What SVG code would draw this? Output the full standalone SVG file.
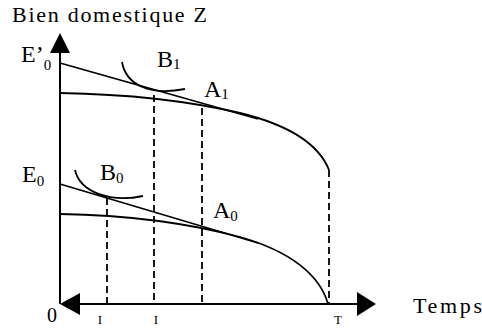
<svg xmlns="http://www.w3.org/2000/svg" width="482" height="328" viewBox="0 0 482 328">
<style>
.ln{fill:none;stroke:#000;stroke-width:1.8}
.ax{fill:none;stroke:#000;stroke-width:2}
.ds{fill:none;stroke:#000;stroke-width:1.8;stroke-dasharray:7,4}
text{font-family:'Liberation Serif','Times New Roman','DejaVu Serif',serif;font-size:22px;fill:#000}
.l{font-size:24px}
.s{font-size:15px}
</style>
<rect width="482" height="328" fill="#fff"/>
<g id="axes">
<line class="ax" x1="60" y1="304" x2="60" y2="52"/>
<polygon points="50,53 70,53 60,33" fill="#000"/>
<line class="ax" x1="78" y1="304" x2="358" y2="304"/>
<polygon points="80,293 80,315 60,304" fill="#000"/>
<polygon points="357,292 357,316 376,304" fill="#000"/>
</g>
<g id="curves">
<path class="ln" d="M60,63 L258,119"/>
<path class="ln" d="M60,93 C120,94 180,99 240,113 C285,124 318,142 329,170"/>
<path class="ln" d="M122,62 C126,85 150,96 185,89"/>
<path class="ln" d="M60,184 L258,243"/>
<path class="ln" d="M60,214 C120,215 180,221 240,237 C290,251 320,275 328,304"/>
<path class="ln" d="M75,170 C80,192 110,203 143,196"/>
</g>
<g id="dashes">
<line class="ds" x1="154" y1="95" x2="154" y2="304"/>
<line class="ds" x1="202" y1="108" x2="202" y2="304"/>
<line class="ds" x1="107" y1="198" x2="107" y2="304"/>
<line class="ds" x1="329" y1="170" x2="329" y2="304"/>
</g>
<g id="labels">
<text x="12" y="22" textLength="195" lengthAdjust="spacing">Bien domestique Z</text>
<text class="l" x="21" y="62">E’<tspan class="s" dy="8">0</tspan></text>
<text class="l" x="157" y="67">B<tspan class="s" dy="2">1</tspan></text>
<text class="l" x="204" y="97">A<tspan class="s" dy="2">1</tspan></text>
<text class="l" x="22" y="182">E<tspan class="s" dy="4">0</tspan></text>
<text class="l" x="100" y="180">B<tspan class="s" dy="3">0</tspan></text>
<text class="l" x="213" y="218">A<tspan class="s" dy="3">0</tspan></text>
<text x="47" y="322" style="font-size:20px">0</text>
<text x="100" y="324" text-anchor="middle" style="font-size:13px">I</text>
<text x="156" y="324" text-anchor="middle" style="font-size:13px">I</text>
<text x="338" y="324" text-anchor="middle" style="font-size:13px">T</text>
<text x="413" y="313" textLength="69" lengthAdjust="spacing">Temps</text>
</g>
</svg>
